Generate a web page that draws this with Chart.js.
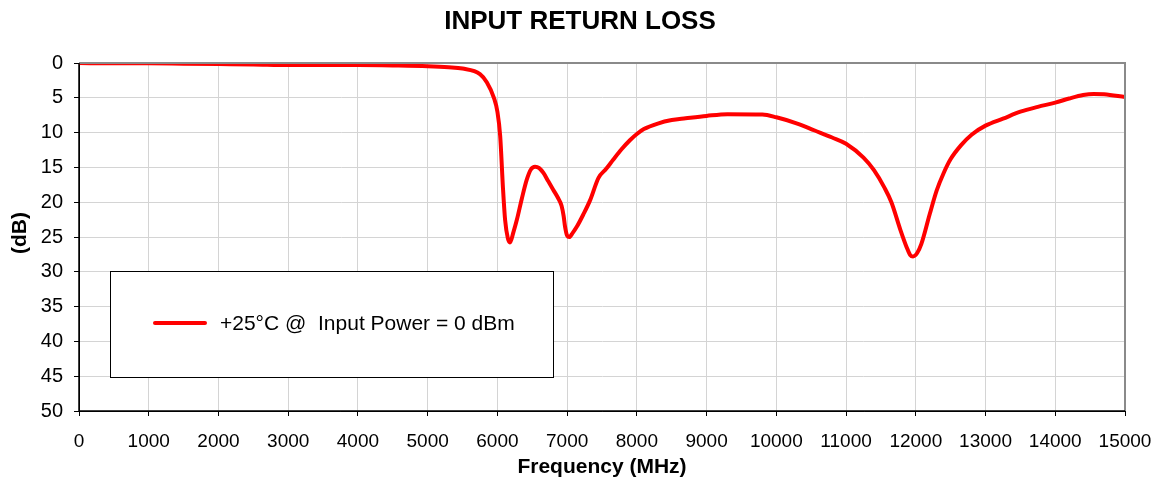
<!DOCTYPE html>
<html>
<head>
<meta charset="utf-8">
<script src="https://cdn.jsdelivr.net/npm/chart.js@4.4.0/dist/chart.umd.min.js"></script>
<style>
html,body{margin:0;padding:0;background:#fff;}
#wrap{width:1158px;height:483px;position:relative;}
</style>
</head>
<body>
<div id="wrap"><canvas id="c" width="1158" height="483"></canvas></div>
<script>
const chartTitle = "INPUT RETURN LOSS";
const xTitle = "Frequency (MHz)";
const yTitle = "(dB)";
const seriesLabel = "+25°C @  Input Power = 0 dBm";

const freqMHz = [0, 500, 1000, 1500, 2000, 2500, 3000, 3500, 4000, 4500, 5000, 5300, 5500, 5750, 5850, 5950, 6000, 6040, 6080, 6110, 6150, 6180, 6230, 6280, 6350, 6420, 6480, 6540, 6600, 6660, 6730, 6800, 6870, 6920, 6950, 6970, 7000, 7030, 7080, 7140, 7230, 7330, 7450, 7560, 7660, 7780, 7900, 8000, 8100, 8300, 8500, 8700, 9000, 9300, 9800, 10000, 10300, 10550, 10800, 11000, 11250, 11400, 11550, 11650, 11780, 11870, 11920, 11960, 12020, 12080, 12200, 12300, 12400, 12500, 12650, 12800, 13000, 13250, 13500, 13750, 14000, 14200, 14400, 14550, 14700, 15000];
const returnLossDb = [0, 0.05, 0.05, 0.1, 0.15, 0.2, 0.3, 0.3, 0.3, 0.35, 0.45, 0.6, 0.8, 1.6, 2.8, 5.0, 7.0, 10.5, 18, 22.5, 25.2, 25.8, 24.3, 22.5, 19.5, 16.8, 15.3, 14.9, 15.1, 15.8, 17.0, 18.2, 19.4, 20.5, 22, 23.5, 24.8, 25.0, 24.4, 23.5, 21.8, 19.7, 16.5, 15.2, 13.9, 12.4, 11.1, 10.2, 9.5, 8.7, 8.2, 7.95, 7.6, 7.35, 7.4, 7.8, 8.7, 9.7, 10.7, 11.6, 13.6, 15.4, 17.9, 20, 24, 26.5, 27.6, 27.8, 27.3, 26, 21.7, 18.3, 15.8, 13.8, 11.8, 10.3, 9.0, 8.0, 7.0, 6.3, 5.7, 5.1, 4.6, 4.45, 4.5, 4.9];

const xMin = 0, xMax = 15000, xStep = 1000;
const yMin = 0, yMax = 50, yStep = 5;

const points = freqMHz.map((f, i) => ({x: f, y: returnLossDb[i]}));
const FONT = "'Liberation Sans', Arial, sans-serif";

const decor = {
  id: 'decor',
  afterDraw(chart) {
    const ctx = chart.ctx;
    const a = chart.chartArea;
    ctx.save();
    ctx.strokeStyle = '#8a8a8a';
    ctx.lineWidth = 2;
    ctx.beginPath();
    ctx.moveTo(a.left, a.top);
    ctx.lineTo(a.right, a.top);
    ctx.lineTo(a.right, a.bottom);
    ctx.stroke();
    ctx.strokeStyle = '#000';
    ctx.lineWidth = 1.5;
    ctx.beginPath();
    ctx.moveTo(a.left, a.top);
    ctx.lineTo(a.left, a.bottom);
    ctx.lineTo(a.right, a.bottom);
    ctx.stroke();

    const lx = 110, ly = 271, lw = 443, lh = 106;
    ctx.fillStyle = '#fff';
    ctx.fillRect(lx, ly, lw, lh);
    ctx.strokeStyle = '#000';
    ctx.lineWidth = 1;
    ctx.strokeRect(lx + 0.5, ly + 0.5, lw, lh);
    ctx.strokeStyle = '#ff0000';
    ctx.lineWidth = 4;
    ctx.lineCap = 'round';
    ctx.beginPath();
    ctx.moveTo(155, 323);
    ctx.lineTo(205, 323);
    ctx.stroke();
    ctx.fillStyle = '#000';
    ctx.font = '21px ' + FONT;
    ctx.textAlign = 'left';
    ctx.textBaseline = 'middle';
    ctx.fillText(seriesLabel, 220, 324);

    ctx.textAlign = 'center';
    ctx.font = 'bold 26px ' + FONT;
    ctx.fillText(chartTitle, 580, 22);
    ctx.font = 'bold 21px ' + FONT;
    ctx.fillText(xTitle, (a.left + a.right) / 2, 467);
    ctx.save();
    ctx.translate(20, 233);
    ctx.rotate(-Math.PI / 2);
    ctx.fillText(yTitle, 0, 0);
    ctx.restore();
    ctx.restore();
  }
};

new Chart(document.getElementById('c'), {
  type: 'line',
  data: {
    datasets: [{
      label: seriesLabel,
      data: points,
      borderColor: '#ff0000',
      borderWidth: 4,
      pointRadius: 0,
      fill: false,
      cubicInterpolationMode: 'monotone',
      borderJoinStyle: 'round',
      borderCapStyle: 'round'
    }]
  },
  options: {
    responsive: false,
    animation: false,
    devicePixelRatio: 1,
    layout: { padding: { top: 63, right: 33, left: 0, bottom: 0 } },
    plugins: { legend: { display: false }, title: { display: false }, tooltip: { enabled: false } },
    scales: {
      x: {
        type: 'linear',
        min: xMin, max: xMax,
        afterFit(s) { s.height = 72; s.paddingLeft = 0; s.paddingRight = 0; },
        ticks: { stepSize: xStep, color: '#000', font: { size: 19, family: FONT }, padding: 14, maxRotation: 0, autoSkip: false,
                 callback: v => String(v) },
        grid: { color: '#d4d4d4', lineWidth: 1, drawTicks: true, tickLength: 5, tickColor: '#000' },
        border: { color: '#000', width: 1 }
      },
      y: {
        type: 'linear',
        reverse: true,
        min: yMin, max: yMax,
        afterFit(s) { s.width = 79; s.paddingTop = 0; s.paddingBottom = 0; },
        ticks: { stepSize: yStep, color: '#000', font: { size: 20, family: FONT }, padding: 11,
                 callback: v => String(v) },
        grid: { color: '#d4d4d4', lineWidth: 1, drawTicks: true, tickLength: 5, tickColor: '#000' },
        border: { color: '#000', width: 1 }
      }
    }
  },
  plugins: [decor]
});
</script>
</body>
</html>
